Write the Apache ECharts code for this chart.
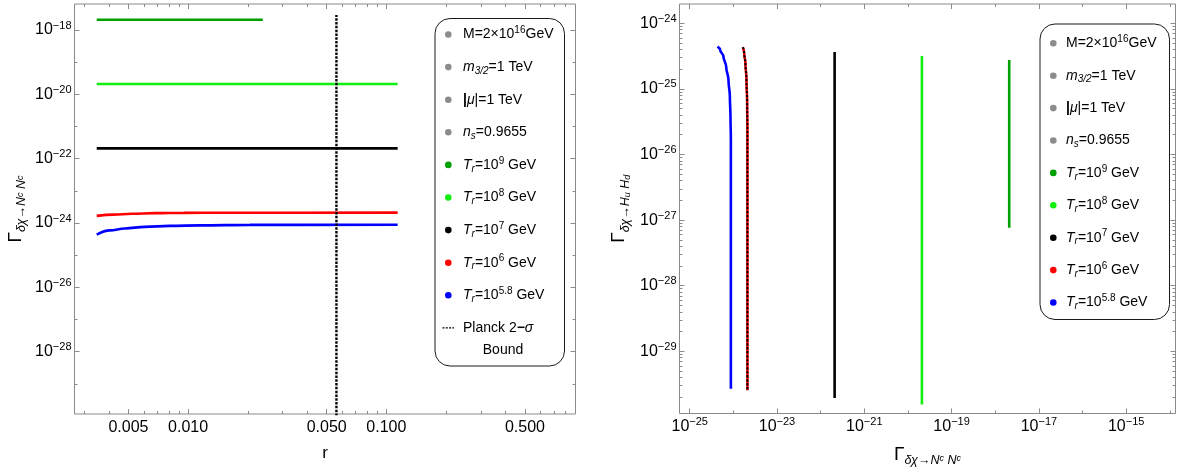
<!DOCTYPE html>
<html>
<head>
<meta charset="utf-8">
<script src="https://cdn.jsdelivr.net/npm/echarts@6/dist/echarts.min.js"></script>
<style>html,body{margin:0;padding:0;background:#fff}#c{width:1180px;height:467px}</style>
</head>
<body>
<div id="c"></div>
<script>
// ===================== DATA =====================
// Left panel: Gamma(δχ -> N^c N^c) versus r
const r_T9 = [0.00346, 0.0238];
const g_T9 = [2.09e-18, 2.09e-18];
const r_T8 = [0.00346, 0.114];
const g_T8 = [2.09e-20, 2.09e-20];
const r_T7 = [0.00346, 0.114];
const g_T7 = [2.09e-22, 2.09e-22];
const r_T6 = [0.00346, 0.0042, 0.0052, 0.0068, 0.0095, 0.015, 0.114];
const g_T6 = [1.66e-24, 1.82e-24, 1.93e-24, 2.02e-24, 2.07e-24, 2.09e-24, 2.10e-24];
const r_T58 = [0.00346, 0.00403, 0.0048, 0.00605, 0.0081, 0.01146, 0.0205, 0.114];
const g_T58 = [4.37e-25, 5.89e-25, 6.76e-25, 7.59e-25, 8.13e-25, 8.41e-25, 8.71e-25, 8.77e-25];
const r_planck = [0.056, 0.056];
const g_planck = [1e-30, 2.92e-18];

// Right panel: Gamma(δχ -> Hu Hd) versus Gamma(δχ -> N^c N^c)
const nn_T9 = [2.09e-18, 2.09e-18];
const hh_T9 = [2.76e-25, 7.65e-28];
const nn_T8 = [2.09e-20, 2.09e-20];
const hh_T8 = [3.18e-25, 1.55e-30];
const nn_T7 = [2.09e-22, 2.09e-22];
const hh_T7 = [3.66e-25, 1.95e-30];
const nn_T6 = [1.65e-24, 1.77e-24, 1.89e-24, 2.00e-24, 2.07e-24, 2.10e-24, 2.10e-24];
const hh_T6 = [4.32e-25, 3.49e-25, 2.46e-25, 1.37e-25, 6.05e-26, 2.38e-26, 2.56e-30];
const nn_T58 = [4.33e-25, 4.99e-25, 5.94e-25, 6.85e-25, 7.73e-25, 8.32e-25, 8.59e-25, 8.77e-25, 8.77e-25];
const hh_T58 = [4.41e-25, 3.93e-25, 3.10e-25, 2.18e-25, 1.37e-25, 7.64e-26, 3.78e-26, 1.67e-26, 2.69e-30];

// Tick values / labels
const leftXLabelValues = [0.005, 0.01, 0.05, 0.1, 0.5];
const leftXLabelTexts = ['0.005', '0.010', '0.050', '0.100', '0.500'];
const leftXMinorValues = [0.003, 0.004, 0.006, 0.007, 0.008, 0.009, 0.02, 0.03, 0.04, 0.06, 0.07, 0.08, 0.09, 0.2, 0.3, 0.4, 0.6, 0.7, 0.8];
const leftYLabelExps = [-18, -20, -22, -24, -26, -28];
const leftYMinorExps = [-19, -21, -23, -25, -27, -29];
const rightXLabelExps = [-25, -23, -21, -19, -17, -15];
const rightXMinorExps = [-24, -22, -20, -18, -16, -14];
const rightYLabelExps = [-24, -25, -26, -27, -28, -29];
const rightYDecades = [-30, -29, -28, -27, -26, -25, -24];
const minorMultipliers = [2, 3, 4, 5, 6, 7, 8, 9];

// Legend texts
const paramLabels = ['M=2×10{sup|16}GeV', '{i|m}{sub|3/2}=1 TeV', '{b||}{i|μ}|=1 TeV', '{i|n}{sub|s}=0.9655'];
const tempExps = ['9', '8', '7', '6', '5.8'];

// ===================== STYLE =====================
const FONT = '"Liberation Sans", Arial, Helvetica, sans-serif';
const GREY = '#8a8a8a';
const tempColors = ['#00a000', '#11ee11', '#000000', '#ff0000', '#0000ff'];

const L = Math.log10;
const pts = (xs, ys) => xs.map((x, i) => [L(x), L(ys[i])]);
const powFmt = v => '10{s|−' + Math.round(-v) + '}';

const tickLabelStyle = {
  color: '#000', fontFamily: FONT, fontSize: 16, lineHeight: 20,
  rich: { s: { fontFamily: FONT, fontSize: 11, lineHeight: 11, verticalAlign: 'top', color: '#000' } }
};
const titleRich = {
  g: { fontFamily: FONT, fontSize: 19, lineHeight: 26, color: '#000' },
  s: { fontFamily: FONT, fontSize: 12.5, fontStyle: 'italic', lineHeight: 12.5, verticalAlign: 'bottom', color: '#000' },
  c: { fontFamily: FONT, fontSize: 9, fontStyle: 'italic', lineHeight: 9, verticalAlign: 'bottom', padding: [0, 0, 4, 0], color: '#000' },
  d: { fontFamily: FONT, fontSize: 9, fontStyle: 'italic', lineHeight: 9, verticalAlign: 'bottom', color: '#000' }
};
const nnTitle = '{g|Γ}{s|δχ→N}{c|c}{s| N}{c|c}';
const hhTitle = '{g|Γ}{s|δχ→H}{d|u}{s| H}{d|d}';

function axisSet(dim, gi, range, majors, minors, extra) {
  const pos = dim === 'x' ? ['bottom', 'top'] : ['left', 'right'];
  const mk = (p, vals, len, ex) => {
    const a = {
      type: 'value', gridIndex: gi, position: p, min: range[0], max: range[1],
      splitLine: { show: false }, axisLine: { show: false, onZero: false },
      axisTick: { show: true, inside: true, length: len, customValues: vals, lineStyle: { color: GREY, width: 1 } },
      axisLabel: { show: false }
    };
    if (ex) Object.assign(a, ex);
    return a;
  };
  return [mk(pos[0], majors, 5, extra), mk(pos[0], minors, 3), mk(pos[1], majors, 5), mk(pos[1], minors, 3)];
}

const rightYMinors = [];
rightYDecades.forEach(d => minorMultipliers.forEach(k => rightYMinors.push(d + L(k))));

const xAxes = []
  .concat(axisSet('x', 0, [-2.573, -0.046], leftXLabelValues.map(L), leftXMinorValues.map(L), {
    axisLabel: Object.assign({ show: true, margin: 4, customValues: leftXLabelValues.map(L),
      formatter: v => leftXLabelTexts[leftXLabelValues.findIndex(x => Math.abs(L(x) - v) < 1e-6)] }, tickLabelStyle),
    name: 'r', nameLocation: 'middle', nameGap: 28,
    nameTextStyle: { color: '#000', fontFamily: FONT, fontSize: 17, lineHeight: 20 }
  }))
  .concat(axisSet('x', 1, [-25.234, -13.87], rightXLabelExps, rightXMinorExps, {
    axisLabel: Object.assign({ show: true, margin: 3, customValues: rightXLabelExps, formatter: powFmt }, tickLabelStyle),
    name: nnTitle, nameLocation: 'middle', nameGap: 22,
    nameTextStyle: { color: '#000', fontFamily: FONT, fontSize: 18, lineHeight: 26, rich: titleRich }
  }));

const yAxes = []
  .concat(axisSet('y', 0, [-29.94, -17.19], leftYLabelExps, leftYMinorExps, {
    axisLabel: Object.assign({ show: true, margin: 3, customValues: leftYLabelExps, formatter: powFmt }, tickLabelStyle),
    name: nnTitle, nameLocation: 'middle', nameGap: 46, nameRotate: 90,
    nameTextStyle: { color: '#000', fontFamily: FONT, fontSize: 18, lineHeight: 26, rich: titleRich }
  }))
  .concat(axisSet('y', 1, [-29.948, -23.706], rightYLabelExps, rightYMinors, {
    axisLabel: Object.assign({ show: true, margin: 3, customValues: rightYLabelExps, formatter: powFmt }, tickLabelStyle),
    name: hhTitle, nameLocation: 'middle', nameGap: 47.5, nameRotate: 90,
    nameTextStyle: { color: '#000', fontFamily: FONT, fontSize: 18, lineHeight: 26, rich: titleRich }
  }));

function line(name, data, color, gi, opts) {
  return Object.assign({
    type: 'line', name, data, xAxisIndex: gi * 4, yAxisIndex: gi * 4,
    symbol: 'none', showSymbol: false, clip: true, animation: false,
    lineStyle: { color, width: 2.6 }, itemStyle: { color }, z: 3
  }, opts || {});
}

const series = [
  line('T9', pts(r_T9, g_T9), tempColors[0], 0),
  line('T8', pts(r_T8, g_T8), tempColors[1], 0),
  line('T7', pts(r_T7, g_T7), tempColors[2], 0),
  line('T6', pts(r_T6, g_T6), tempColors[3], 0, { smooth: 0.4, smoothMonotone: 'x' }),
  line('T5.8', pts(r_T58, g_T58), tempColors[4], 0, { smooth: 0.4, smoothMonotone: 'x' }),
  line('Planck', pts(r_planck, g_planck), '#000', 0, { lineStyle: { color: '#000', width: 2.4, type: [2.5, 1.3] }, z: 5 }),
  line('T9r', pts(nn_T9, hh_T9), tempColors[0], 1),
  line('T8r', pts(nn_T8, hh_T8), tempColors[1], 1),
  line('T7r', pts(nn_T7, hh_T7), tempColors[2], 1),
  line('T6r', pts(nn_T6, hh_T6), tempColors[3], 1, { smooth: 0.4, smoothMonotone: 'y' }),
  line('T6r-dots', pts(nn_T6, hh_T6), '#000', 1, { smooth: 0.4, smoothMonotone: 'y', lineStyle: { color: '#000', width: 2, type: [2.5, 1.5] }, z: 4 }),
  line('T5.8r', pts(nn_T58, hh_T58), tempColors[4], 1, { smooth: 0.4, smoothMonotone: 'y' })
];

// Legend boxes (graphic)
const legendRich = {
  i: { fontFamily: FONT, fontSize: 14, fontStyle: 'italic', lineHeight: 18 },
  sub: { fontFamily: FONT, fontSize: 10, fontStyle: 'italic', lineHeight: 10, verticalAlign: 'bottom' },
  sup: { fontFamily: FONT, fontSize: 10, lineHeight: 10, verticalAlign: 'top' },
  b: { fontFamily: FONT, fontSize: 14, fontWeight: 'bold', lineHeight: 18 }
};
function legend(box, dotX, textX, y0, step, withPlanck) {
  const els = [{ type: 'rect', shape: { x: box[0], y: box[1], width: box[2], height: box[3], r: 15 },
    style: { fill: '#fff', stroke: '#1a1a1a', lineWidth: 1 }, z: 100 }];
  const rows = paramLabels.map(t => ({ t, c: '#8c8c8c' }))
    .concat(tempExps.map((e, i) => ({ t: '{i|T}{sub|r}=10{sup|' + e + '} GeV', c: tempColors[i] })));
  const txt = (x, y, t, align) => ({ type: 'text', x, y, z: 101,
    style: { text: t, fill: '#000', fontFamily: FONT, fontSize: 14, lineHeight: 18, rich: legendRich, align: align || 'left', verticalAlign: 'middle' } });
  rows.forEach((r, i) => {
    const y = y0 + i * step;
    els.push({ type: 'circle', shape: { cx: dotX, cy: y, r: 3.3 }, style: { fill: r.c }, z: 101 });
    els.push(txt(textX, y, r.t));
  });
  if (withPlanck) {
    const y = y0 + rows.length * step;
    els.push({ type: 'line', shape: { x1: 442.5, y1: y, x2: 454, y2: y }, style: { stroke: '#000', lineWidth: 1.3, lineDash: [2, 1.3] }, z: 101 });
    els.push(txt(textX, y, 'Planck 2{b|−}{i|σ}'));
    els.push(txt(503, y + 22, 'Bound', 'center'));
  }
  return els;
}

const option = {
  animation: false,
  backgroundColor: '#fff',
  textStyle: { fontFamily: FONT },
  grid: [
    { left: 74.5, top: 4, width: 501, height: 410, show: true, borderColor: GREY, borderWidth: 1, backgroundColor: 'transparent', containLabel: false, outerBoundsMode: 'none' },
    { left: 679.5, top: 4, width: 496, height: 409.5, show: true, borderColor: GREY, borderWidth: 1, backgroundColor: 'transparent', containLabel: false, outerBoundsMode: 'none' }
  ],
  xAxis: xAxes,
  yAxis: yAxes,
  series,
  graphic: legend([435, 18.5, 129.5, 347.5], 448.3, 463, 34.5, 32.6, true)
    .concat(legend([1040, 24, 129.5, 295.5], 1053.3, 1066, 43.3, 32.4, false))
};

const chart = echarts.init(document.getElementById('c'), null, { renderer: 'canvas' });
chart.setOption(option);
</script>
</body>
</html>
